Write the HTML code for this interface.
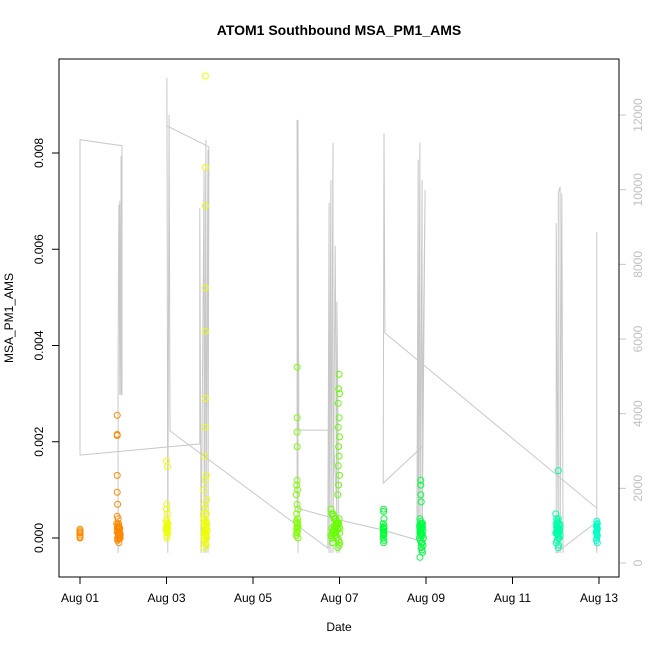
<!DOCTYPE html>
<html><head><meta charset="utf-8">
<style>
html,body{margin:0;padding:0;background:#fff;}
svg{display:block;font-family:"Liberation Sans",Arial,sans-serif;}
</style></head>
<body>
<svg id="chart" width="650" height="650" viewBox="0 0 650 650">
  <text x="339" y="35" text-anchor="middle" font-size="14" font-weight="bold">ATOM1 Southbound MSA_PM1_AMS</text>
  <text x="339" y="631" text-anchor="middle" font-size="12">Date</text>
  <text transform="translate(13,318) rotate(-90)" text-anchor="middle" font-size="12">MSA_PM1_AMS</text>
  <g id="grayLayer"></g>
  <g id="ptLayer"></g>
  <g id="axLayer"></g>
  <rect x="59" y="59" width="560" height="518" fill="none" stroke="#000" stroke-width="1"/>
</svg>
<script>
// ---- data ----
const xTickDays = [1,3,5,7,9,11,13];
const xTickLabels = ["Aug 01","Aug 03","Aug 05","Aug 07","Aug 09","Aug 11","Aug 13"];
const yTicks = [0,0.002,0.004,0.006,0.008];
const yTickLabels = ["0.000","0.002","0.004","0.006","0.008"];
const y2Ticks = [0,2000,4000,6000,8000,10000,12000];

// null = gap in line
const grayDays = [1.00,1.00,1.97,1.97,1.95,1.95,1.92,1.92,1.90,1.88,1.88,null,1.00,3.77,3.77,3.80,3.87,3.87,3.91,3.91,3.96,3.96,3.98,3.01,3.01,3.03,3.06,3.08,6.73,6.76,6.76,6.80,6.80,6.85,6.85,6.90,6.94,6.94,6.99,6.85,6.06,6.04,6.04,6.02,6.02,7.01,8.01,8.79,8.82,8.82,8.86,8.86,8.91,8.91,8.98,8.91,8.01,8.03,8.05,12.95,12.95,12.95,12.91,12.01,12.01,12.06,12.06,12.10,12.10,12.14,12.17];
const grayVals = [2890,11340,11180,4500,10900,4500,9700,4500,9600,5600,270,null,2890,3190,9500,270,10530,270,11340,270,11070,270,11150,11710,13000,270,12000,3540,400,9650,270,10260,270,11260,270,8500,270,7000,270,3560,3560,11870,270,11870,1470,1150,880,620,10800,270,11260,270,10260,270,10000,3110,2140,11520,6160,1470,8870,270,1070,270,9100,270,9900,10080,270,9900,270];

const clusterColors = ["#FF8C00","#FF8800","#EEFF00","#EEFF00","#7FFF00","#66FF00","#00FF33","#00FF44","#00FFAA","#00FFC4"];
const clusterDays = [
 [1.00,1.00,1.00,1.00,1.00,1.00,1.00],
 [1.86,1.86,1.86,1.86,1.86,1.87,1.86,1.88,1.85,1.87,1.89,1.90,1.91,1.86,1.88,1.90,1.92,1.87,1.89,1.91,1.93,1.86,1.88,1.90,1.92,1.89,1.91,1.87,1.90,1.93,1.88],
 [3.00,3.02,3.01,3.00,3.02,3.01,3.00,3.02,3.01,3.03,3.00,3.02,3.01,3.03,3.00,3.02,3.01,3.00,3.02,3.01],
 [3.90,3.90,3.90,3.90,3.90,3.90,3.90,3.88,3.92,3.90,3.86,3.93,3.88,3.90,3.92,3.85,3.87,3.89,3.91,3.93,3.86,3.88,3.90,3.92,3.94,3.87,3.89,3.91,3.93,3.86,3.88,3.90,3.92,3.89,3.91,3.87,3.93,3.90],
 [6.02,6.02,6.02,6.02,6.02,6.01,6.03,6.00,6.02,6.04,6.01,6.03,6.00,6.02,6.04,6.01,6.03,6.02,6.00,6.04,6.02,6.01,6.03],
 [6.99,6.98,7.00,6.97,6.99,6.97,7.00,6.98,6.99,6.97,7.00,6.98,6.96,6.80,6.82,6.85,6.88,6.90,6.93,6.96,6.99,7.01,6.82,6.85,6.88,6.91,6.94,6.97,7.00,6.80,6.83,6.86,6.89,6.92,6.95,6.98,7.01,6.84,6.87,6.90,6.93,6.96,6.99,6.86,6.92,6.98,6.83,6.95],
 [8.02,8.02,8.03,8.01,8.03,8.02,8.01,8.03,8.02,8.01,8.03,8.02,8.01,8.02,8.03,8.02],
 [8.88,8.88,8.88,8.89,8.86,8.88,8.90,8.92,8.85,8.87,8.89,8.91,8.93,8.86,8.88,8.90,8.92,8.94,8.85,8.87,8.89,8.91,8.93,8.86,8.88,8.90,8.92,8.87,8.89,8.91,8.88,8.90,8.86,8.92,8.88],
 [12.06,12.00,12.02,12.04,12.06,12.08,12.10,12.01,12.03,12.05,12.07,12.09,12.00,12.02,12.04,12.06,12.08,12.10,12.01,12.03,12.05,12.07,12.09,12.02,12.04,12.06,12.08,12.03,12.05,12.07,12.04],
 [12.95,12.96,12.94,12.96,12.95,12.94,12.96,12.95,12.94,12.96,12.95,12.94,12.96,12.95,12.95]
];
const clusterVals = [
 [0.00018,0.00015,0.0001,0.00006,0.00002,0.0,0.00012],
 [0.00255,0.00215,0.00213,0.0013,0.00095,0.0007,0.00045,0.0004,0.0003,0.00025,0.0003,0.0002,0.00015,0.0002,0.0001,0.00025,0.0002,0.0,0.00005,0.0001,0.0,0.00012,0.00018,0.0001,0.00005,0.00022,0.0,-0.00005,-0.0001,0.00008,-0.00002],
 [0.0016,0.00148,0.0007,0.0006,0.0005,0.0004,0.00035,0.0003,0.00025,0.0002,0.00015,0.0001,0.00005,0.0003,0.0002,0.0001,0.0,0.00022,0.00012,0.00028],
 [0.0096,0.0077,0.0069,0.0052,0.0043,0.0029,0.0023,0.0017,0.0013,0.0012,0.001,0.0008,0.0007,0.0006,0.0005,0.0005,0.0004,0.0004,0.00035,0.0003,0.0003,0.00025,0.0002,0.0002,0.00015,0.0001,0.0001,0.00005,0.0,0.0,-0.00005,-0.0001,-0.00015,0.00018,0.00008,-0.0002,0.00028,0.00012],
 [0.00355,0.0025,0.0022,0.0019,0.0012,0.0011,0.001,0.0009,0.0007,0.0006,0.0005,0.0004,0.00035,0.0003,0.00025,0.0002,0.00015,0.0001,0.00005,0.0,0.00022,0.00012,0.00032],
 [0.0034,0.0031,0.003,0.0028,0.0025,0.0023,0.0021,0.0019,0.0017,0.0015,0.0013,0.0011,0.0009,0.0006,0.0005,0.0005,0.0004,0.0004,0.0003,0.0003,0.0004,0.0002,0.0002,0.00015,0.00025,0.0001,0.00035,0.0002,0.0001,0.00005,0.0,0.0001,0.0002,0.0003,0.0,-0.00005,-0.0001,-0.0001,0.00015,0.00005,0.00025,-0.0002,-0.00015,0.00045,0.00012,0.0003,0.00008,0.00018],
 [0.0006,0.00055,0.0004,0.0003,0.00025,0.0002,0.00015,0.0001,0.00005,0.0,-0.00005,-0.0001,0.00022,0.00012,0.00018,0.00008],
 [0.0012,0.0011,0.0009,0.00075,0.0004,0.00035,0.0003,0.0003,0.00025,0.0002,0.00025,0.0002,0.00015,0.0001,0.00015,0.0001,0.00005,0.0,0.0,-0.00005,-0.0001,-0.0001,-0.00015,0.00018,0.00012,0.00008,0.00022,0.0003,-0.0002,-0.00025,0.00005,0.0001,-0.0004,-0.0003,0.00028],
 [0.0014,0.0005,0.0004,0.00035,0.0004,0.0003,0.00025,0.0003,0.00025,0.0002,0.0002,0.00015,0.0001,0.00015,0.0001,0.00005,0.0,0.00005,-0.0001,-0.00005,0.0,0.00012,0.00018,0.00022,0.00008,-0.0002,0.00028,0.0001,0.0002,-0.00015,0.00032],
 [0.00035,0.0003,0.00025,0.0002,0.00015,0.0001,0.00005,0.0,-0.00005,-0.0001,0.00022,0.00012,0.00018,0.00008,0.00028]
];

// ---- scales ----
const X0=80, PXDAY=43.25;
function xs(d){return X0+(d-1)*PXDAY;}
function ys(v){return 538-v*48125;}
function y2s(v){return 563-v*0.03733;}

const NS="http://www.w3.org/2000/svg";
function mk(tag,attrs,parent){const e=document.createElementNS(NS,tag);for(const k in attrs)e.setAttribute(k,attrs[k]);parent.appendChild(e);return e;}

// gray series (split at nulls)
const gl=document.getElementById('grayLayer');
let segs=[[]];
grayDays.forEach((d,i)=>{
  if(d===null||grayVals[i]===null){segs.push([]);return;}
  segs[segs.length-1].push(xs(d).toFixed(1)+","+y2s(grayVals[i]).toFixed(1));
});
segs.filter(s=>s.length>1).forEach(s=>{
  const pl=mk('polyline',{points:s.join(" "),fill:'none',stroke:'#c8c8c8','stroke-width':1},gl);
  
  
});

// scatter
const pLayer=document.getElementById('ptLayer');
clusterVals.forEach((vals,ci)=>{
  const g=mk('g',{},pLayer);
  
  
  vals.forEach((v,i)=>{
    const c=mk('circle',{cx:xs(clusterDays[ci][i]).toFixed(1),cy:ys(v).toFixed(1),r:3,fill:'none',stroke:clusterColors[ci],'stroke-width':1},g);
    
    
  });
});

// axes
const ax=document.getElementById('axLayer');
const bl=mk('line',{x1:xs(1),x2:xs(13),y1:577,y2:577,stroke:'#000'},ax);


xTickDays.forEach((d,i)=>{
  const t=mk('line',{x1:xs(d),x2:xs(d),y1:577,y2:584,stroke:'#000'},ax);
  
  
  const l=mk('text',{x:xs(d),y:602,'text-anchor':'middle','font-size':12},ax);
  l.textContent=xTickLabels[i];
  
  
});
const ll=mk('line',{x1:59,x2:59,y1:ys(0),y2:ys(0.008),stroke:'#000'},ax);


yTicks.forEach((v,i)=>{
  const t=mk('line',{x1:52,x2:59,y1:ys(v),y2:ys(v),stroke:'#000'},ax);
  
  
  const l=mk('text',{transform:'translate(43,'+ys(v)+') rotate(-90)','text-anchor':'middle','font-size':12},ax);
  l.textContent=yTickLabels[i];
  
  
});
const rl=mk('line',{x1:619,x2:619,y1:y2s(0),y2:y2s(12000),stroke:'#000'},ax);


y2Ticks.forEach(v=>{
  const t=mk('line',{x1:619,x2:626,y1:y2s(v),y2:y2s(v),stroke:'#c8c8c8'},ax);
  
  
  const l=mk('text',{transform:'translate(642,'+y2s(v)+') rotate(-90)','text-anchor':'middle','font-size':12,fill:'#c0c0c0'},ax);
  l.textContent=String(v);
  
  
});
</script>
</body></html>
